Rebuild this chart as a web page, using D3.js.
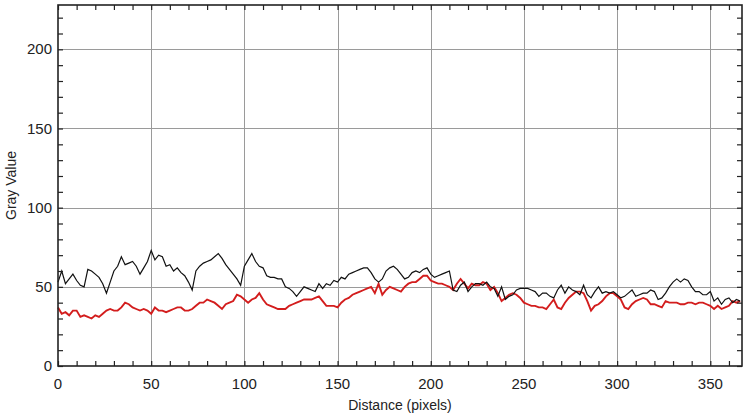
<!DOCTYPE html>
<html>
<head>
<meta charset="utf-8">
<script src="https://cdn.jsdelivr.net/npm/d3@7"></script>
<style>
  body { margin: 0; background: #fff; }
  svg { display: block; }
  text { font-family: "Liberation Sans", Arial, sans-serif; fill: #222; }
</style>
</head>
<body>
<svg width="750" height="414"></svg>
<script>
const WIDTH = 750
const HEIGHT = 414
const LEFT = 58, RIGHT = 742, TOP = 5, BOTTOM = 366

// profile distances, every 2 px along the line
const distance = d3.range(0, 367, 2)

// black profile (gray value)
const blackValues = [
  53, 60, 52, 55, 58, 54, 51, 50, 61, 60, 58, 56, 52, 46, 53, 60, 63, 69, 64, 65,
  66, 63, 58, 62, 66, 73, 67, 70, 69, 63, 64, 60, 62, 59, 57, 53, 48, 60, 63, 65,
  66, 67, 69, 71, 68, 64, 61, 58, 55, 51, 63, 67, 71, 66, 63, 62, 57, 56, 56, 55,
  55, 50, 49, 47, 44, 47, 50, 49, 48, 47, 52, 49, 52, 51, 54, 53, 56, 55, 58, 59,
  60, 61, 62, 62, 59, 55, 53, 55, 60, 62, 63, 61, 58, 55, 56, 59, 60, 59, 61, 62,
  58, 56, 57, 58, 59, 60, 48, 47, 51, 53, 47, 50, 52, 52, 51, 53, 50, 49, 44, 50,
  42, 44, 45, 48, 49, 49, 49, 48, 47, 44, 46, 46, 44, 43, 48, 51, 46, 50, 48, 47,
  45, 51, 45, 43, 47, 50, 46, 47, 46, 47, 45, 43, 44, 46, 48, 44, 45, 46, 46, 48,
  47, 42, 43, 46, 50, 53, 55, 53, 55, 54, 50, 47, 47, 45, 45, 47, 41, 43, 39, 42,
  43, 40, 42, 41
]

// red profile (gray value)
const redValues = [
  37, 33, 34, 32, 35, 35, 31, 32, 31, 30, 32, 31, 33, 35, 36, 35, 35, 37, 40, 39,
  37, 36, 35, 36, 35, 33, 37, 35, 35, 34, 35, 36, 37, 37, 35, 35, 36, 38, 40, 40,
  42, 41, 40, 38, 36, 39, 40, 41, 45, 44, 42, 40, 42, 43, 46, 42, 39, 38, 37, 36,
  36, 36, 38, 39, 40, 41, 42, 42, 42, 43, 44, 41, 38, 38, 38, 37, 40, 42, 43, 45,
  46, 47, 48, 49, 50, 46, 52, 45, 48, 50, 49, 48, 47, 50, 52, 53, 53, 55, 57, 57,
  54, 53, 52, 52, 51, 50, 48, 52, 55, 52, 49, 52, 51, 51, 53, 52, 48, 50, 46, 41,
  43, 45, 46, 45, 43, 40, 39, 38, 38, 37, 37, 36, 39, 42, 37, 36, 40, 43, 45, 47,
  47, 46, 41, 35, 38, 39, 41, 44, 46, 46, 44, 42, 37, 36, 39, 41, 42, 43, 42, 39,
  39, 38, 37, 41, 40, 40, 40, 39, 39, 40, 40, 39, 40, 40, 39, 38, 36, 38, 36, 37,
  38, 41, 40, 41
]

const xTicks = [0, 50, 100, 150, 200, 250, 300, 350]
const yTicks = [0, 50, 100, 150, 200]

const svg = d3.select("svg")

let x = d3.scaleLinear().domain([0, 367]).range([LEFT, RIGHT])
let y = d3.scaleLinear().domain([0, 228]).range([BOTTOM, TOP])

// grid
let grid = svg.append("g").attr("stroke", "#9a9a9a").attr("stroke-width", 1)
grid.selectAll("line.gx")
    .data(xTicks.slice(1))
    .enter().append("line")
    .attr("x1", d => Math.round(x(d)) + 0.5)
    .attr("x2", d => Math.round(x(d)) + 0.5)
    .attr("y1", TOP).attr("y2", BOTTOM)
grid.selectAll("line.gy")
    .data(yTicks.slice(1))
    .enter().append("line")
    .attr("y1", d => Math.round(y(d)) + 0.5)
    .attr("y2", d => Math.round(y(d)) + 0.5)
    .attr("x1", LEFT).attr("x2", RIGHT)

// lines
let profileLine = d3.line()
    .x((d, i) => x(distance[i]))
    .y(d => y(d))

svg.append("path")
    .datum(redValues)
    .attr("fill", "none")
    .attr("stroke", "#d31d1d")
    .attr("stroke-width", 1.9)
    .attr("d", profileLine)

svg.append("path")
    .datum(blackValues)
    .attr("fill", "none")
    .attr("stroke", "#111")
    .attr("stroke-width", 1.2)
    .attr("d", profileLine)

// axes, ticks pointing inside
let minorX = d3.range(0, 367, 10)
let minorY = d3.range(0, 228, 10)

svg.append("g")
    .attr("transform", "translate(0," + BOTTOM + ")")
    .call(d3.axisTop(x).tickValues(minorX).tickSize(5).tickFormat(""))
svg.append("g")
    .attr("transform", "translate(0," + TOP + ")")
    .call(d3.axisBottom(x).tickValues(minorX).tickSize(5).tickFormat(""))
svg.append("g")
    .attr("transform", "translate(" + LEFT + ",0)")
    .call(d3.axisRight(y).tickValues(minorY).tickSize(5).tickFormat(""))
svg.append("g")
    .attr("transform", "translate(" + RIGHT + ",0)")
    .call(d3.axisLeft(y).tickValues(minorY).tickSize(5).tickFormat(""))

svg.selectAll(".domain").remove()
svg.selectAll(".tick line").attr("stroke", "#222").attr("stroke-width", 1.2)

// frame
svg.append("rect")
    .attr("x", LEFT).attr("y", TOP)
    .attr("width", RIGHT - LEFT).attr("height", BOTTOM - TOP)
    .attr("fill", "none")
    .attr("stroke", "#222")
    .attr("stroke-width", 1.6)

// tick labels
svg.selectAll("text.xl")
    .data(xTicks)
    .enter().append("text")
    .attr("x", d => x(d))
    .attr("y", 389)
    .attr("text-anchor", "middle")
    .attr("font-size", 15)
    .text(d => d)

svg.selectAll("text.yl")
    .data(yTicks)
    .enter().append("text")
    .attr("x", 52)
    .attr("y", d => y(d) + 5)
    .attr("text-anchor", "end")
    .attr("font-size", 15)
    .text(d => d)

svg.append("text")
    .attr("transform", "translate(16," + (TOP + BOTTOM) / 2 + ") rotate(-90)")
    .attr("text-anchor", "middle")
    .attr("font-size", 14)
    .text("Gray Value")

svg.append("text")
    .attr("x", (LEFT + RIGHT) / 2)
    .attr("y", 410)
    .attr("text-anchor", "middle")
    .attr("font-size", 14)
    .text("Distance (pixels)")
</script>
</body>
</html>
